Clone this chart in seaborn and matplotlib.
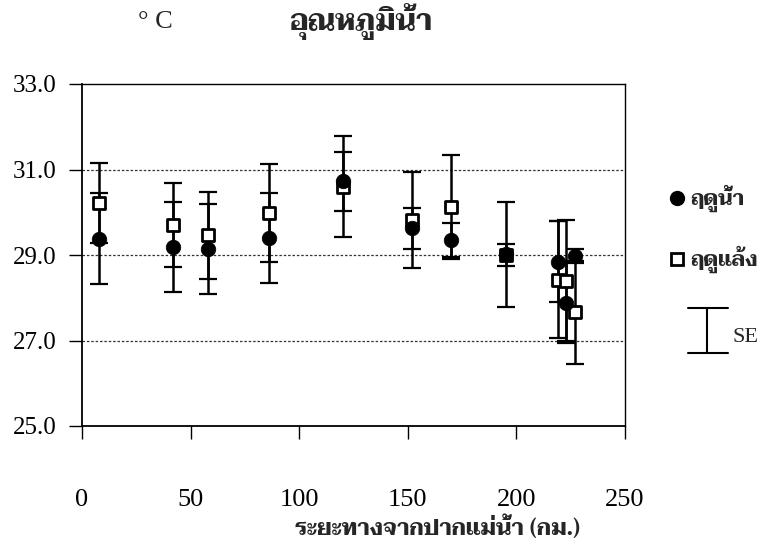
import matplotlib
matplotlib.use("Agg")
import matplotlib.pyplot as plt
from matplotlib import font_manager as fm
from matplotlib.ft2font import FT2Font
import seaborn as sns
import numpy as np

# ---------------- data ----------------
distance_km = [8, 42, 58, 86, 120, 152, 170, 195, 219, 223, 227]
wet_mean = [29.38, 29.18, 29.14, 29.40, 30.72, 29.62, 29.36, 29.02, 28.84, 27.88, 28.98]
wet_se = [1.07, 1.05, 1.05, 1.06, 0.68, 0.48, 0.40, 1.23, 0.95, 0.95, 0.16]
dry_mean = [30.22, 29.70, 29.46, 29.98, 30.60, 29.82, 30.12, 29.00, 28.42, 28.40, 27.66]
dry_se = [0.93, 0.99, 1.02, 1.15, 1.18, 1.12, 1.22, 0.25, 1.37, 1.42, 1.20]
x_ticks = [0, 50, 100, 150, 200, 250]
y_ticks = [25.0, 27.0, 29.0, 31.0, 33.0]
title = "อุณหภูมิน้ำ"
unit_label = "° C"
x_label = "ระยะทางจากปากแม่น้ำ (กม.)"
legend_wet = "ฤดูน้ำ"
legend_dry = "ฤดูแล้ง"
legend_se = "SE"


def find_thai_fonts():
    found = []
    seen = set()
    for f in fm.fontManager.ttflist:
        if f.fname in seen:
            continue
        seen.add(f.fname)
        try:
            cm = FT2Font(f.fname).get_charmap()
        except Exception:
            continue
        if 0x0E01 in cm and 0x0E33 in cm and 0x0E49 in cm:
            found.append(f)
    return found


thai_fonts = find_thai_fonts()
thai_names = sorted(set(f.name for f in thai_fonts))
preferred = ["Angsana New", "AngsanaUPC", "TH Sarabun New", "TH SarabunPSK", "Norasi", "Kinnari",
             "Taviraj", "Trirong", "Noto Serif Thai", "FreeSerif", "Sarabun",
             "IBM Plex Sans Thai Looped", "Noto Sans Thai Looped"]
thai_family = next((n for n in preferred if n in thai_names),
                   thai_names[0] if thai_names else "DejaVu Sans")

sns.set_theme(style="white")
plt.rcParams['font.family'] = ['Liberation Serif', 'DejaVu Serif']

W, H = 778, 552
fig = plt.figure(figsize=(W / 100, H / 100), dpi=100)
fig.patch.set_facecolor("white")

def px(x, y):
    return x / W, 1 - y / H

left, right, top, bottom = 82, 625, 84, 426
ax = fig.add_axes([left / W, 1 - bottom / H, (right - left) / W, (bottom - top) / H])
ax.set_facecolor("white")

for yv in y_ticks[1:-1]:
    ax.axhline(yv, color="#333333", lw=0.9, ls=(0, (2, 1.5)), zorder=1)

ax.errorbar(distance_km, dry_mean, yerr=dry_se, fmt="none", ecolor="black",
            elinewidth=1.8, capsize=6.5, capthick=1.6, zorder=2)
ax.errorbar(distance_km, wet_mean, yerr=wet_se, fmt="none", ecolor="black",
            elinewidth=1.8, capsize=6.5, capthick=1.6, zorder=2)

sns.scatterplot(x=distance_km, y=dry_mean, marker="s", s=75, color="white",
                edgecolor="black", linewidth=2.0, ax=ax, zorder=3)
sns.scatterplot(x=distance_km, y=wet_mean, marker="o", s=110, color="black",
                edgecolor="black", linewidth=0.5, ax=ax, zorder=4)

ax.set_xlim(0, 250)
ax.set_ylim(25, 33)
ax.set_xticks(x_ticks)
ax.set_xticklabels([str(v) for v in x_ticks])
ax.set_yticks(y_ticks)
ax.set_yticklabels([f"{v:.1f}" for v in y_ticks])
for sp in ax.spines.values():
    sp.set_visible(True)
    sp.set_color("black")
    sp.set_linewidth(1.0)
ax.spines["left"].set_linewidth(1.3)
ax.spines["bottom"].set_linewidth(1.3)
ax.tick_params(axis="y", direction="out", length=9.5, width=1.0, pad=9,
               labelsize=18, colors="black", left=True)
ax.tick_params(axis="x", direction="out", length=9, width=1.0, pad=36,
               labelsize=19, colors="black", bottom=True)

fig.text(*px(361, 22), title, family=[thai_family, "DejaVu Sans"], fontsize=21,
         fontweight="bold", ha="center", va="center")
fig.text(*px(155, 22), unit_label, family=["Liberation Serif", "DejaVu Serif"],
         fontsize=19, ha="center", va="center")
fig.text(*px(437, 528), x_label, family=[thai_family, "DejaVu Sans"], fontsize=16,
         fontweight="bold", ha="center", va="center")

lax = fig.add_axes([0, 0, 1, 1], zorder=-1)
lax.set_xlim(0, W)
lax.set_ylim(H, 0)
lax.axis("off")
lax.plot([677], [198], marker="o", ms=10, color="black", ls="none")
lax.plot([677], [259], marker="s", ms=8, mfc="white", mec="black", mew=2, ls="none")
lax.plot([707, 707], [308, 353], color="black", lw=1.5)
lax.plot([688, 728], [308, 308], color="black", lw=1.5)
lax.plot([688, 728], [353, 353], color="black", lw=1.5)
fig.text(*px(690, 198), legend_wet, family=[thai_family, "DejaVu Sans"], fontsize=15,
         fontweight="bold", ha="left", va="center")
fig.text(*px(690, 259), legend_dry, family=[thai_family, "DejaVu Sans"], fontsize=15,
         fontweight="bold", ha="left", va="center")
fig.text(*px(733, 338), legend_se, family=["Liberation Serif", "DejaVu Serif"],
         fontsize=16, ha="left", va="center")

fig.savefig("out.png", dpi=100, facecolor="white")
